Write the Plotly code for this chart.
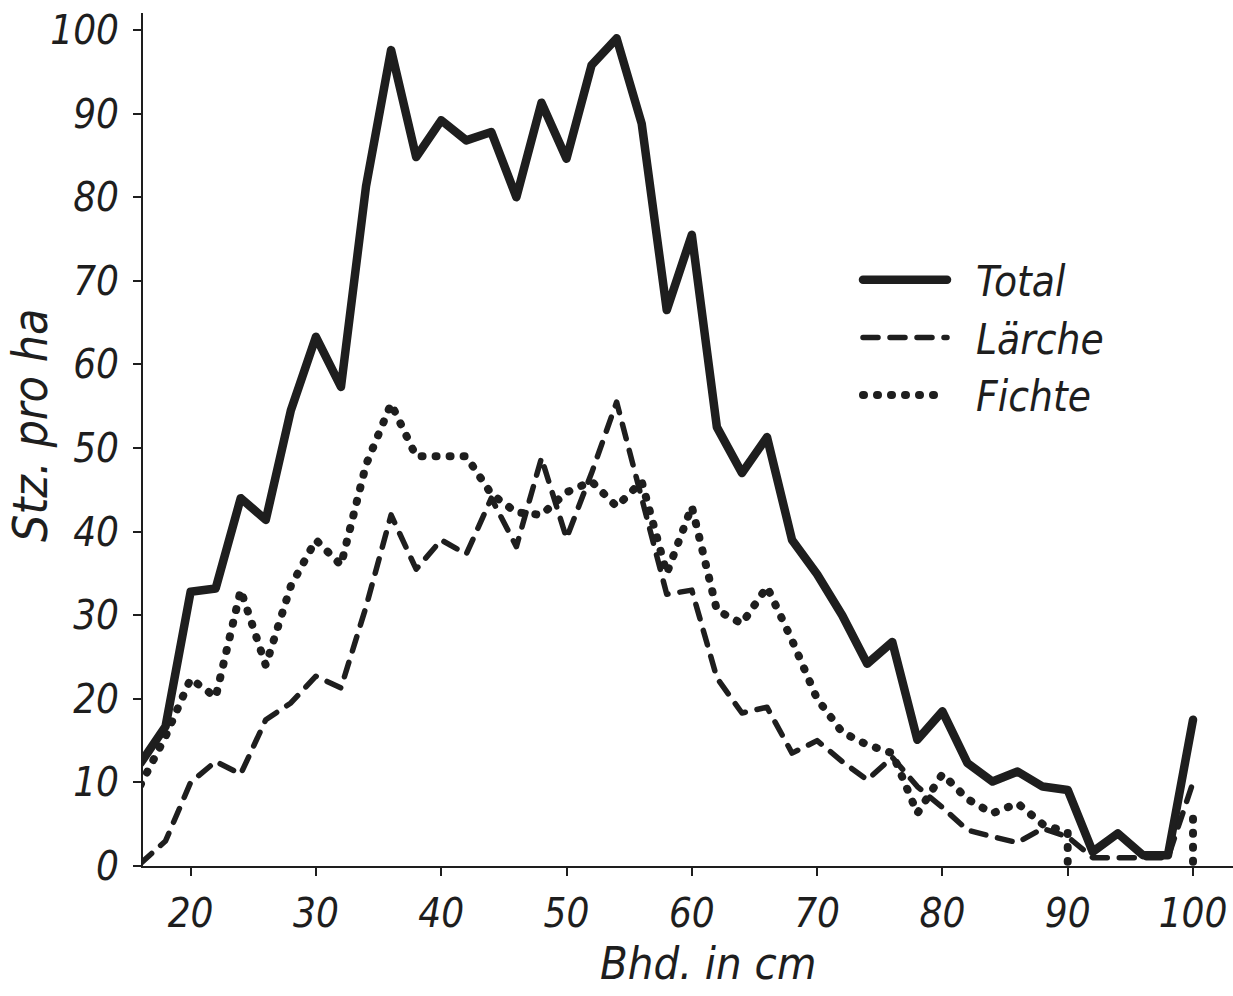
import plotly.graph_objects as go

# Bhd. classes (cm)
bhd = [16, 18, 20, 22, 24, 26, 28, 30, 32, 34, 36, 38, 40, 42, 44, 46, 48, 50, 52, 54,
       56, 58, 60, 62, 64, 66, 68, 70, 72, 74, 76, 78, 80, 82, 84, 86, 88, 90, 92, 94,
       96, 98, 100]

total = [12.3, 16.7, 32.8, 33.2, 44.0, 41.4, 54.5, 63.3, 57.3, 81.3,
         97.6, 84.8, 89.2, 86.8, 87.8, 80.0, 91.3, 84.6, 95.8, 99.0,
         88.8, 66.5, 75.5, 52.5, 47.0, 51.3, 39.0, 34.9, 30.0, 24.2,
         26.8, 15.1, 18.5, 12.3, 10.1, 11.3, 9.5, 9.1, 1.7, 3.9,
         1.3, 1.3, 17.5]

laerche = [0.3, 3.0, 10.0, 12.5, 11.0, 17.5, 19.5, 22.7, 21.3, 31.0,
           42.0, 35.5, 39.0, 37.3, 44.0, 38.2, 48.8, 39.2, 47.0, 55.5,
           44.0, 32.5, 33.0, 22.5, 18.3, 19.0, 13.5, 15.0, 12.5, 10.3,
           13.0, 9.5, 7.0, 4.3, 3.5, 2.8, 4.5, 3.5, 1.0, 1.0,
           1.0, 1.0, 10.0]

fichte_x = [16, 18, 20, 22, 24, 26, 28, 30, 32, 34, 36, 38, 40, 42, 44, 46, 48, 50, 52, 54,
            56, 58, 60, 62, 64, 66, 68, 70, 72, 74, 76, 78, 80, 82, 84, 86, 88, 90,
            90, 95, 100, 100]
fichte = [9.7, 15.5, 22.4, 20.2, 33.0, 24.0, 33.5, 39.0, 36.0, 48.0,
          55.3, 49.0, 49.0, 49.0, 44.5, 42.3, 42.0, 44.7, 46.0, 43.0,
          46.0, 35.0, 43.0, 30.6, 29.0, 33.4, 27.0, 20.0, 16.0, 14.5,
          13.5, 6.3, 11.0, 8.0, 6.3, 7.5, 5.0, 4.0,
          0.5, None, 0.5, 7.0]

series_names = ["Total", "Lärche", "Fichte"]
x_ticks = [20, 30, 40, 50, 60, 70, 80, 90, 100]
y_ticks = [0, 10, 20, 30, 40, 50, 60, 70, 80, 90, 100]

INK = "#1e1e1e"
FONT = "DejaVu Sans Condensed, Liberation Sans Narrow, DejaVu Sans, sans-serif"
PAD = "\u00a0\u00a0"

fig = go.Figure()
fig.add_trace(go.Scatter(x=bhd, y=total, mode="lines", name=PAD + series_names[0],
                         line=dict(color=INK, width=8.5)))
fig.add_trace(go.Scatter(x=bhd, y=laerche, mode="lines", name=PAD + series_names[1],
                         line=dict(color=INK, width=5.5, dash="15px,12px")))
fig.add_trace(go.Scatter(x=fichte_x, y=fichte, mode="lines", name=PAD + series_names[2],
                         connectgaps=False,
                         line=dict(color=INK, width=8, dash="1px,13px")))

W, H = 1233, 996
L, R, T, B = 143, 0, 13, 130
px_x = 12.53
px_y = 8.36
x0 = 16.2
x1 = x0 + (W - L - R) / px_x
y1 = (H - T - B) / px_y
PW, PH = W - L - R, H - T - B

fig.update_layout(
    width=W, height=H,
    margin=dict(l=L, r=R, t=T, b=B),
    paper_bgcolor="white", plot_bgcolor="white",
    font=dict(family=FONT, size=40, color=INK, style="italic"),
    showlegend=True,
    legend=dict(x=(858 - L) / PW, y=1 - (246 - T) / PH,
                xanchor="left", yanchor="top",
                bgcolor="rgba(0,0,0,0)", itemwidth=84,
                font=dict(family=FONT, size=42, color=INK, style="italic"),
                tracegroupgap=1),
    xaxis=dict(range=[x0, x1], tickvals=x_ticks, ticktext=[str(v) for v in x_ticks],
               showgrid=False, zeroline=False, showline=True, linecolor=INK, linewidth=2,
               ticks="outside", ticklen=8, tickwidth=2, tickcolor=INK,
               ticklabelstandoff=3,
               tickfont=dict(family=FONT, size=40, color=INK, style="italic")),
    yaxis=dict(range=[0, y1], tickvals=y_ticks, ticktext=[str(v) for v in y_ticks],
               showgrid=False, zeroline=False, showline=True, linecolor=INK, linewidth=2,
               ticks="outside", ticklen=8, tickwidth=2, tickcolor=INK,
               ticklabelstandoff=6,
               tickfont=dict(family=FONT, size=40, color=INK, style="italic")),
    annotations=[
        dict(text="Bhd. in cm", xref="paper", yref="paper",
             x=(708 - L) / PW, y=-(963 - (H - B)) / PH,
             xanchor="center", yanchor="middle", showarrow=False,
             font=dict(family=FONT, size=45, color=INK, style="italic")),
        dict(text="Stz. pro ha", xref="paper", yref="paper",
             x=-(L - 30) / PW, y=1 - (425 - T) / PH,
             xanchor="center", yanchor="middle", showarrow=False, textangle=-90,
             font=dict(family=FONT, size=48, color=INK, style="italic")),
    ],
)

post = """
document.body.style.margin='0';
document.body.style.overflow='hidden';
document.querySelectorAll('.js-line').forEach(function(p){
  p.style.strokeLinecap='round'; p.style.strokeLinejoin='round';
});
"""
fig.write_html("out.html", post_script=post, config={"displayModeBar": False})
